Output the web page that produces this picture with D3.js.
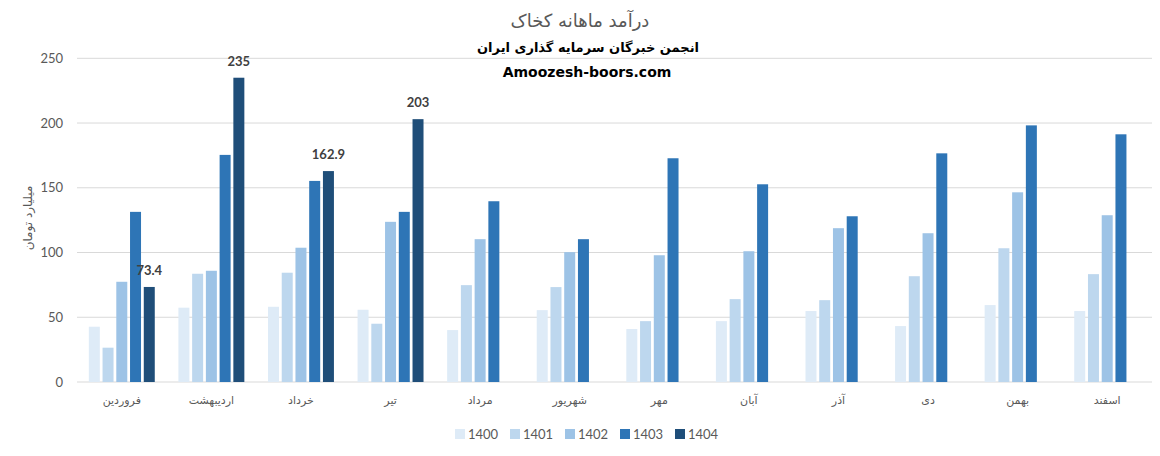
<!DOCTYPE html>
<html><head><meta charset="utf-8">
<script src="https://cdn.jsdelivr.net/npm/d3@7"></script>
<style>body{margin:0;background:#fff}svg{display:block}</style>
</head><body>
<svg id="c" width="1160" height="456"></svg>
<script>
const months = ["فروردین","اردیبهشت","خرداد","تیر","مرداد","شهریور","مهر","آبان","آذر","دی","بهمن","اسفند"];
const seriesNames = ["1400","1401","1402","1403","1404"];
const v1400 = [42.7,57.4,58.1,55.8,40.1,55.5,40.9,47.0,54.8,43.2,59.4,54.8];
const v1401 = [26.5,83.6,84.4,45.0,74.8,73.3,47.0,64.0,63.2,81.7,103.3,83.3];
const v1402 = [77.4,85.9,103.7,123.7,110.3,100.3,97.9,101.0,118.8,114.9,146.5,128.8];
const v1403 = [131.4,175.4,155.3,131.4,139.6,110.3,172.8,152.7,128.0,176.6,198.2,191.3];
const v1404 = [73.4,235,162.9,203,null,null,null,null,null,null,null,null];
const yTicks = [0,50,100,150,200,250];
const colors = ["#deebf7","#bdd7ee","#9dc3e6","#2e75b6","#1f4e79"];
const allSeries = [v1400,v1401,v1402,v1403,v1404];

const svg = d3.select("#c");
const L = 77, R = 1152, T = 58.3, B = 382;
const x0 = d3.scaleBand().domain(months).range([L,R]).padding(0);
const x1 = d3.scaleBand().domain(seriesNames).range([0,x0.bandwidth()]).paddingInner(0.2).paddingOuter(0.86);
const y = d3.scaleLinear().domain([0,250]).range([B,T]);
const color = d3.scaleOrdinal().domain(seriesNames).range(colors);

// gridlines
svg.append("g").selectAll("line").data(yTicks).join("line")
  .attr("x1",L).attr("x2",R).attr("y1",d=>y(d)).attr("y2",d=>y(d))
  .attr("stroke","#d9d9d9").attr("stroke-width",1);

// y axis labels
const yAxis = d3.axisLeft(y).tickValues(yTicks).tickSize(0).tickPadding(14);
const ya = svg.append("g").attr("transform",`translate(${L},0)`).call(yAxis);
ya.select(".domain").remove();
ya.selectAll("text").attr("font-family","Lato, 'Liberation Sans', sans-serif").attr("font-size",13).attr("fill","#595959");

// x axis labels
const xAxis = d3.axisBottom(x0).tickSize(0).tickPadding(14);
const xa = svg.append("g").attr("transform",`translate(0,${B})`).call(xAxis);
xa.select(".domain").remove();
xa.selectAll("text").attr("font-family","'DejaVu Sans', sans-serif").attr("font-size",11).attr("fill","#595959");

// bars
const data = [];
months.forEach((m,i)=>seriesNames.forEach((s,j)=>{ if(allSeries[j][i]!=null) data.push({m,s,v:allSeries[j][i]}); }));
svg.append("g").selectAll("rect").data(data).join("rect")
  .attr("x",d=>x0(d.m)+x1(d.s)).attr("width",x1.bandwidth())
  .attr("y",d=>y(d.v)).attr("height",d=>y(0)-y(d.v))
  .attr("fill",d=>color(d.s));

// labels for 1404
svg.append("g").selectAll("text").data(data.filter(d=>d.s==="1404")).join("text")
  .attr("x",d=>x0(d.m)+x1(d.s)+x1.bandwidth()/2).attr("y",d=>y(d.v)-12)
  .attr("text-anchor","middle").attr("font-family","Lato, 'Liberation Sans', sans-serif")
  .attr("font-weight","bold").attr("font-size",13).attr("fill","#404040")
  .text(d=>d.v);

// titles
svg.append("text").attr("x",580).attr("y",27).attr("text-anchor","middle")
  .attr("font-family","'DejaVu Sans', sans-serif").attr("font-size",18).attr("fill","#595959")
  .text("درآمد ماهانه کخاک");
svg.append("text").attr("x",588).attr("y",52).attr("text-anchor","middle")
  .attr("font-family","'DejaVu Sans', sans-serif").attr("font-weight","bold").attr("font-size",13).attr("fill","#000")
  .text("انجمن خبرگان سرمایه گذاری ایران");
svg.append("text").attr("x",587).attr("y",77).attr("text-anchor","middle")
  .attr("font-family","'DejaVu Sans', sans-serif").attr("font-weight","bold").attr("font-size",14).attr("fill","#000")
  .text("Amoozesh-boors.com");

// y axis title
svg.append("text").attr("transform","translate(32,218) rotate(-90)").attr("text-anchor","middle")
  .attr("font-family","'DejaVu Sans', sans-serif").attr("font-size",12).attr("fill","#595959")
  .text("میلیارد تومان");

// legend
const lx = d3.scaleBand().domain(seriesNames).range([455,730]);
const lg = svg.append("g").selectAll("g").data(seriesNames).join("g")
  .attr("transform",d=>`translate(${lx(d)},434)`);
lg.append("rect").attr("x",0).attr("y",-5).attr("width",10).attr("height",10).attr("fill",d=>color(d));
lg.append("text").attr("x",13).attr("y",5).attr("font-family","Lato, 'Liberation Sans', sans-serif")
  .attr("font-size",13).attr("fill","#595959").text(d=>d);
</script>
</body></html>
